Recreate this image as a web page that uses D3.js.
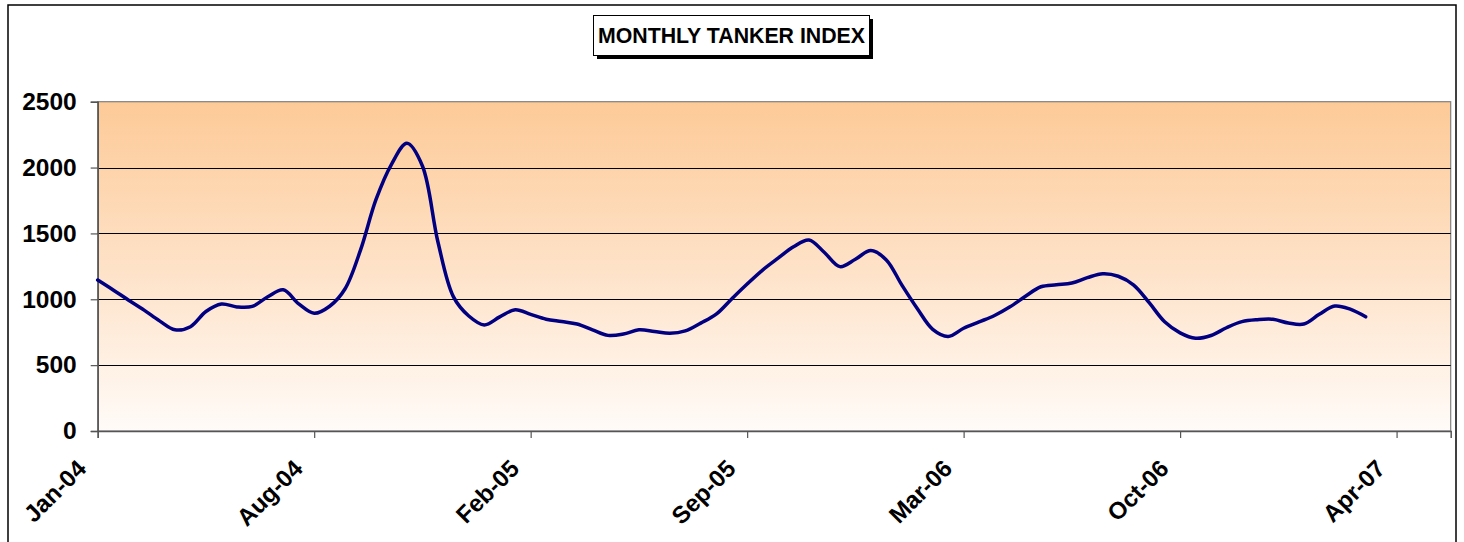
<!DOCTYPE html>
<html>
<head>
<meta charset="utf-8">
<script src="https://cdn.jsdelivr.net/npm/d3@7"></script>
<style>
  html, body { margin: 0; padding: 0; background: #fff; }
  text { font-family: "Liberation Sans", Arial, sans-serif; font-weight: bold; }
</style>
</head>
<body>
<figure id="chart" style="margin:0"></figure>
<script>
// fortnightly readings of the index, first one on 30 Jan 2004
const firstDate = "2004-01-30";
const stepDays = 14;
const indexValues = [
  1146, 1071, 993, 918, 836, 768, 792, 907, 964, 942,
  946, 1019, 1072, 965, 894, 947, 1080, 1375, 1758, 2025,
  2184, 2012, 1437, 1020, 873, 805, 866, 920, 885, 849,
  831, 812, 768, 726, 736, 768, 756, 742, 760, 819,
  887, 1003, 1116, 1222, 1312, 1398, 1450, 1355, 1248, 1304,
  1370, 1299, 1109, 930, 772, 718, 780, 828, 877, 943,
  1023, 1095, 1110, 1123, 1164, 1194, 1175, 1108, 974, 829,
  745, 704, 725, 784, 830, 845, 848, 820, 812, 886,
  949, 925, 867
];

// axis labels (one every 28 weeks) and value ticks
const tickLabels = ["Jan-04", "Aug-04", "Feb-05", "Sep-05", "Mar-06", "Oct-06", "Apr-07"];
const tickStepDays = 196;
const yTicks = [0, 500, 1000, 1500, 2000, 2500];
const endDate = "2007-06-08";

const W = 1464, H = 542;
const plot = { left: 97.7, right: 1450.7, top: 101.7, bottom: 431 };

const parse = d3.timeParse("%Y-%m-%d");
const start = parse(firstDate);
const data = indexValues.map((v, i) => ({ date: d3.timeDay.offset(start, i * stepDays), value: v }));
const tickDates = tickLabels.map((l, i) => d3.timeDay.offset(start, i * tickStepDays));

const svg = d3.select("figure#chart")
  .append("svg")
  .attr("width", W)
  .attr("height", H);

const x = d3.scaleTime()
  .domain([start, parse(endDate)])
  .range([plot.left, plot.right]);

const y = d3.scaleLinear()
  .domain([0, 2500])
  .range([plot.bottom, plot.top]);

// outer chart frame
svg.append("rect")
  .attr("x", 8).attr("y", 5)
  .attr("width", 1448).attr("height", 600)
  .attr("fill", "#fff")
  .attr("stroke", "#000")
  .attr("stroke-width", 1.5);

// plot background gradient
const grad = svg.append("defs").append("linearGradient")
  .attr("id", "bg").attr("x1", 0).attr("y1", 0).attr("x2", 0).attr("y2", 1);
grad.append("stop").attr("offset", "0%").attr("stop-color", "#fdca97");
grad.append("stop").attr("offset", "55%").attr("stop-color", "#fee4cc");
grad.append("stop").attr("offset", "100%").attr("stop-color", "#fffbf8");

svg.append("rect")
  .attr("x", plot.left).attr("y", plot.top)
  .attr("width", plot.right - plot.left)
  .attr("height", plot.bottom - plot.top)
  .attr("fill", "url(#bg)")
  .attr("stroke", "#808080")
  .attr("stroke-width", 1.2);

// gridlines
svg.append("g")
  .selectAll("line")
  .data(yTicks.filter(d => d > 0 && d < 2500))
  .enter()
  .append("line")
  .attr("x1", plot.left).attr("x2", plot.right)
  .attr("y1", d => Math.round(y(d)) + 0.5)
  .attr("y2", d => Math.round(y(d)) + 0.5)
  .attr("stroke", "#000")
  .attr("stroke-width", 1);

// y axis
const yAxis = svg.append("g")
  .attr("transform", "translate(" + plot.left + ",0)")
  .call(d3.axisLeft(y).tickValues(yTicks).tickFormat(d3.format("d")).tickSize(7).tickPadding(14));
yAxis.select(".domain").attr("stroke", "#555").attr("stroke-width", 1.5);
yAxis.selectAll(".tick line").attr("stroke", "#555").attr("stroke-width", 1.2);
yAxis.selectAll("text")
  .attr("fill", "#000")
  .style("font-size", "24.5px");

// x axis
const xAxis = svg.append("g")
  .attr("transform", "translate(0," + plot.bottom + ")")
  .call(d3.axisBottom(x).tickValues(tickDates).tickSize(7).tickFormat(""));
xAxis.select(".domain").attr("stroke", "#555").attr("stroke-width", 1.5);
xAxis.selectAll(".tick line").attr("stroke", "#555").attr("stroke-width", 1.2);

svg.append("g")
  .selectAll("text")
  .data(tickDates)
  .enter()
  .append("text")
  .attr("transform", (d) => "translate(" + (x(d) - 10) + ",470)rotate(-45)")
  .attr("text-anchor", "end")
  .style("font-size", "24px")
  .text((d, i) => tickLabels[i]);

// the index line
svg.append("path")
  .datum(data)
  .attr("fill", "none")
  .attr("stroke", "#000080")
  .attr("stroke-width", 3.5)
  .attr("stroke-linejoin", "round")
  .attr("stroke-linecap", "round")
  .attr("d", d3.line()
    .x(d => x(d.date))
    .y(d => y(d.value))
    .curve(d3.curveCatmullRom.alpha(0.5)));

// title box with shadow
svg.append("rect")
  .attr("x", 597).attr("y", 19)
  .attr("width", 276).attr("height", 40)
  .attr("fill", "#000");
svg.append("rect")
  .attr("x", 593.5).attr("y", 15.5)
  .attr("width", 276).attr("height", 40)
  .attr("fill", "#fff")
  .attr("stroke", "#000")
  .attr("stroke-width", 1);
svg.append("text")
  .attr("x", 731.5).attr("y", 43)
  .attr("text-anchor", "middle")
  .style("font-size", "21.3px")
  .text("MONTHLY TANKER INDEX");
</script>
</body>
</html>
